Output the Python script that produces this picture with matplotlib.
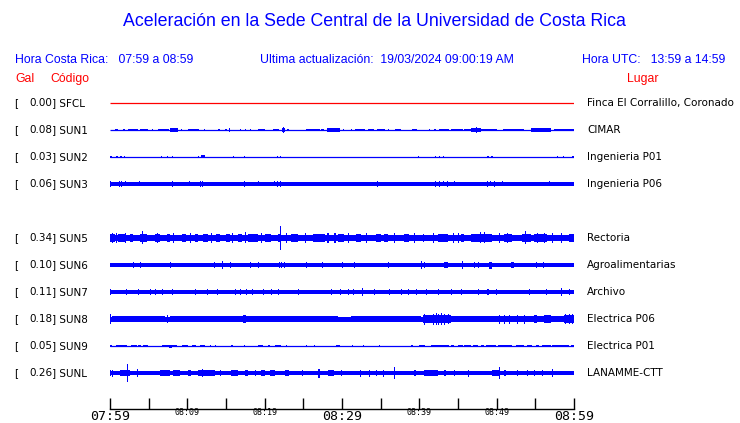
import matplotlib
matplotlib.use('Agg')
import matplotlib.pyplot as plt

# ---- data ----
codes = ['SFCL', 'SUN1', 'SUN2', 'SUN3', 'SUN5', 'SUN6', 'SUN7', 'SUN8', 'SUN9', 'SUNL']
gals = [0.00, 0.08, 0.03, 0.06, 0.34, 0.10, 0.11, 0.18, 0.05, 0.26]
places = ['Finca El Corralillo, Coronado', 'CIMAR', 'Ingenieria P01', 'Ingenieria P06',
          'Rectoria', 'Agroalimentarias', 'Archivo', 'Electrica P06', 'Electrica P01',
          'LANAMME-CTT']
rows = [0, 1, 2, 3, 5, 6, 7, 8, 9, 10]          # row 4 (SUN4) is empty
trace_colors = ['red'] + ['blue'] * 9

# half thickness of the quiet trace, in screen pixels
base_amp = [0.5, 0.5, 0.5, 2.0, 3.2, 2.0, 2.0, 2.5, 0.5, 2.3]

# bursts: (start minute, end minute, half amplitude in pixels), minutes after 07:59
ev_sfcl = []
ev_sun1 = [(0.65, 1.08, 1.4), (1.72, 1.94, 1.4), (2.28, 3.66, 1.4), (3.87, 4.95, 1.4), (5.38, 5.59, 1.4),
           (6.24, 7.61, 1.4), (7.74, 8.73, 1.8), (9.16, 9.33, 1.4), (10.1, 11.5, 1.4), (12.2, 12.3, 1.4),
           (14.0, 14.2, 1.4), (14.9, 15.1, 1.4), (15.4, 15.5, 2.2), (16.8, 16.9, 1.4), (17.4, 17.5, 1.4),
           (18.1, 18.2, 1.4), (19.1, 20.1, 1.4), (21.1, 21.9, 1.4), (22.2, 22.6, 2.2), (22.35, 22.45, 3.2),
           (22.9, 23.1, 1.4), (25.4, 27.1, 1.4), (27.3, 27.7, 1.4), (28.1, 29.7, 1.8), (30.1, 30.3, 1.4),
           (31.1, 31.3, 1.4), (31.7, 33.0, 1.4), (33.3, 34.1, 1.4), (34.5, 35.5, 1.4), (35.9, 36.1, 1.4),
           (36.9, 37.6, 1.4), (39.1, 39.7, 1.4), (41.3, 41.4, 1.4), (41.9, 42.1, 1.4), (42.5, 43.9, 1.4),
           (44.1, 45.6, 1.4), (45.8, 46.7, 1.4), (46.7, 48.0, 1.8), (47.3, 47.4, 3), (48.0, 50.1, 1.4),
           (50.8, 53.5, 1.4), (54.4, 57.0, 1.8), (57.4, 60.0, 1.4)]
ev_sun2 = [(0.0, 0.2, 1.2), (0.77, 0.99, 1.2), (1.29, 1.59, 1.2), (1.8, 1.9, 1.0), (6.58, 6.67, 0.9),
           (7.31, 7.53, 1.2), (7.96, 8.17, 1.0), (11.4, 11.5, 0.9), (11.74, 12.26, 1.5), (15.9, 16.0, 1.2),
           (17.3, 17.5, 1.2), (21.55, 21.63, 1.2), (21.98, 22.1, 1.2), (39.8, 39.9, 0.9),
           (42.06, 42.2, 1.2), (42.6, 42.7, 1.0), (43.1, 43.2, 1.2), (48.7, 49.0, 1.2),
           (49.3, 49.5, 1.2), (57.8, 57.9, 0.9), (58.6, 58.7, 0.9), (59.8, 60.0, 0.9)]
ev_sun3 = [(0.0, 0.0, 3), (1.16, 1.16, 3), (1.42, 1.42, 3), (1.94, 1.94, 2.5), (3.78, 3.78, 2.5),
           (8.04, 8.04, 3), (10.24, 10.24, 2.5), (11.66, 11.66, 3), (11.91, 11.91, 3), (17.29, 17.29, 3),
           (19.14, 19.14, 2.5), (21.2, 21.2, 2.5), (21.55, 21.55, 3), (22.02, 22.02, 3),
           (34.5, 34.5, 3), (42.06, 42.06, 3), (42.58, 42.58, 3), (43.0, 43.0, 2.5), (43.53, 43.53, 3),
           (44.5, 44.5, 2.5), (48.8, 48.9, 3), (49.2, 49.2, 2.5), (49.7, 49.7, 3), (50.75, 50.75, 2.5),
           (56.8, 56.8, 2.5)]
ev_sun5 = [(0.0, 0.65, 3.6), (1.08, 1.94, 3.6), (2.58, 3.01, 4.0), (3.87, 4.73, 4.0), (4.2, 4.3, 6.5),
           (5.81, 6.45, 3.6), (7.31, 7.74, 3.6), (9.25, 9.89, 4.0), (10.97, 11.4, 3.6), (12.04, 12.69, 3.6),
           (13.76, 14.19, 3.6), (15.05, 15.48, 3.6), (16.56, 17.08, 4.0), (17.85, 19.14, 3.6), (20.0, 20.86, 3.6),
           (21.72, 22.15, 4.0), (21.95, 22.0, 12), (23.44, 24.3, 3.6), (26.24, 27.74, 4.0), (28.09, 28.26, 5),
           (29.46, 30.32, 3.6), (31.83, 32.47, 3.6), (34.41, 35.05, 4.0), (35.48, 35.91, 3.6), (38.06, 38.71, 3.6),
           (40.43, 40.65, 3.6), (42.37, 43.66, 3.6), (45.38, 45.81, 3.6), (46.67, 49.46, 4.0), (47.8, 48.0, 5.5),
           (50.97, 52.04, 3.6), (53.33, 54.41, 4.0), (53.6, 53.8, 6.5), (54.84, 56.56, 3.6), (59.35, 60.0, 3.6),
           (0.3, 0.3, 4.8), (0.77, 0.77, 4.8), (1.94, 1.94, 4.8), (6.02, 6.02, 4.8), (8.17, 8.17, 4.8),
           (10.32, 10.32, 4.8), (13.12, 13.12, 4.8), (15.78, 15.78, 4.8), (17.42, 17.42, 5.5),
           (19.57, 19.57, 4.8), (22.8, 22.8, 4.8), (25.16, 25.16, 4.8), (29.03, 29.03, 4.8),
           (30.75, 30.75, 4.8), (33.11, 33.11, 4.8), (36.77, 36.77, 4.8), (39.35, 39.35, 4.8),
           (41.72, 41.72, 4.8), (44.3, 44.3, 4.8), (44.94, 44.94, 4.8), (48.38, 48.38, 5.5),
           (50.32, 50.32, 4.8), (51.4, 51.4, 4.8), (55.27, 55.27, 4.8), (56.13, 56.13, 4.8),
           (57.2, 57.2, 4.8), (58.28, 58.28, 4.8)]
ev_sun6 = [(3.01, 3.01, 2.8), (3.87, 3.87, 2.8), (7.74, 7.74, 2.8), (13.46, 13.46, 3), (14.49, 14.49, 4),
           (15.48, 15.48, 2.8), (18.15, 18.15, 2.8), (19.14, 19.14, 2.8), (21.81, 21.81, 3),
           (22.15, 22.15, 3), (22.49, 22.49, 3), (25.29, 25.29, 2.8), (27.4, 27.4, 2.8), (30.02, 30.02, 2.8),
           (31.61, 31.61, 2.8), (35.91, 35.91, 2.8), (40.22, 40.22, 4), (40.65, 40.65, 3),
           (43.23, 43.66, 3), (45.46, 45.46, 4), (47.01, 47.01, 3), (47.53, 47.53, 3), (49.03, 49.46, 3.5),
           (51.83, 52.26, 3), (55.05, 55.05, 2.8), (56.04, 56.04, 2.8)]
ev_sun7 = [(0.0, 0.0, 2.8), (2.02, 2.02, 3.2), (3.66, 3.66, 2.8), (5.16, 5.16, 2.8), (5.81, 5.81, 2.8),
           (6.67, 6.67, 2.8), (7.96, 7.96, 3.2), (10.97, 10.97, 2.8), (12.6, 12.6, 3.2), (13.89, 13.89, 2.8),
           (16.13, 16.13, 2.8), (16.77, 16.77, 2.8), (17.63, 17.63, 2.8), (18.41, 18.41, 3.2),
           (19.78, 19.78, 2.8), (20.86, 20.86, 2.8), (21.72, 21.72, 2.8), (24.3, 24.3, 2.8),
           (28.6, 28.6, 2.8), (29.68, 29.68, 2.8), (30.75, 30.75, 2.8), (31.4, 31.4, 2.8),
           (32.56, 32.56, 4), (34.19, 34.19, 2.8), (36.13, 36.13, 2.8), (37.63, 37.63, 2.8),
           (38.49, 38.49, 2.8), (39.57, 39.57, 2.8), (40.86, 40.86, 2.8), (42.37, 42.37, 2.8),
           (44.09, 44.09, 2.8), (45.38, 45.38, 3.2), (47.53, 47.53, 2.8), (48.7, 49.0, 3.2), (49.89, 49.89, 2.8),
           (54.19, 54.19, 3.2), (56.34, 56.34, 2.8), (58.28, 58.28, 4), (59.35, 59.35, 2.8)]
ev_sun8 = [(0.0, 0.0, 5), (0.22, 7.1, 3.0), (7.31, 7.53, 4), (7.74, 17.42, 3.0), (17.2, 17.63, 4),
           (17.63, 29.46, 3.0), (31.18, 40.22, 3.0), (40.43, 44.09, 3.8),
           (40.65, 40.65, 5.5), (41.72, 41.72, 5.5), (42.15, 42.15, 6), (42.37, 42.37, 5.5),
           (42.8, 42.8, 6), (43.23, 43.23, 5.5), (43.66, 43.66, 5),
           (44.09, 49.25, 3.2), (49.25, 53.98, 3.4), (50.32, 50.32, 4.5), (50.97, 50.97, 4.5),
           (51.61, 51.61, 4.5), (52.69, 52.69, 4.5), (53.55, 53.55, 4.5),
           (53.98, 58.71, 3.2), (54.84, 55.27, 4), (56.13, 56.99, 4), (58.71, 60.0, 3.6),
           (58.9, 58.9, 5), (59.35, 59.35, 5), (59.78, 59.78, 5)]
ev_sun9 = [(0.0, 0.22, 1.0), (0.77, 2.15, 1.0), (2.71, 3.44, 1.0), (3.66, 4.0, 1.0), (4.3, 4.86, 1.0),
           (6.75, 8.6, 1.0), (7.6, 8.0, 1.5), (9.33, 10.1, 1.0), (10.62, 11.18, 1.0), (11.61, 12.34, 1.0),
           (12.9, 13.03, 1.0), (13.55, 13.76, 1.0), (15.7, 15.91, 1.0), (17.33, 17.5, 1.0),
           (19.14, 19.78, 1.0), (20.43, 20.65, 1.0), (21.38, 22.15, 1.0), (22.8, 22.92, 1.0),
           (25.38, 25.5, 1.0), (26.37, 26.54, 1.0), (29.25, 29.68, 1.0), (31.27, 31.4, 1.0),
           (32.69, 32.82, 1.0), (34.84, 34.97, 1.0), (38.92, 39.14, 1.0), (40.0, 40.73, 1.0),
           (41.5, 43.87, 1.0), (44.09, 44.52, 1.0), (44.95, 45.59, 1.0), (45.81, 46.67, 1.0),
           (46.88, 47.53, 1.0), (47.96, 48.39, 1.0), (48.6, 49.89, 1.0), (50.11, 52.04, 1.0),
           (52.47, 53.55, 1.0), (53.98, 54.62, 1.0), (55.05, 55.48, 1.0), (55.91, 56.99, 1.0),
           (57.2, 59.35, 1.0), (59.57, 60.0, 1.0)]
ev_sunl = [(0.0, 0.0, 3), (0.3, 0.3, 3.5), (1.29, 2.58, 3.0), (2.2, 2.24, 9), (3.53, 3.53, 4),
           (6.45, 7.74, 3.0), (8.17, 9.03, 2.8), (10.11, 10.45, 3.2),
           (11.4, 13.55, 2.8), (11.91, 11.91, 4), (14.19, 14.19, 2.8), (15.61, 16.56, 3.0), (17.42, 17.85, 2.8),
           (18.71, 18.92, 3.2), (19.57, 20.0, 2.8), (20.73, 21.29, 3.2), (22.58, 23.1, 2.8), (24.86, 24.86, 3),
           (26.88, 27.18, 4.5), (28.17, 29.03, 2.8), (29.89, 29.89, 3), (32.34, 32.34, 3.5),
           (33.55, 33.55, 3.5), (34.41, 34.41, 3), (35.27, 35.27, 3.5), (36.77, 36.77, 6),
           (39.27, 39.57, 3), (40.65, 42.37, 3.0), (43.23, 43.44, 3), (44.52, 44.52, 3), (46.24, 46.45, 3.5),
           (49.46, 50.32, 3.2), (50.24, 50.28, 6), (50.97, 51.18, 3),
           (52.69, 52.69, 3), (53.98, 53.98, 3), (54.84, 54.84, 3), (55.91, 55.91, 3), (57.2, 57.2, 4)]
events = [ev_sfcl, ev_sun1, ev_sun2, ev_sun3, ev_sun5, ev_sun6, ev_sun7, ev_sun8, ev_sun9, ev_sunl]

tick_minutes = list(range(0, 61, 5))
tick_labels = ['07:59', '', '08:09', '', '08:19', '', '08:29', '', '08:39', '', '08:49', '', '08:59']
big_labels = ['07:59', '08:29', '08:59']

W, H = 740, 423
ROW_PX = 27.0
BLUE = '#0000ff'
RED = '#ff0000'

fig = plt.figure(figsize=(W / 100, H / 100), dpi=100)

def fx(px):
    return px / W

def fy(py):
    return 1 - py / H

# traces axes: rows 0..10, bottom spine is the time axis
y_top, y_bot = -0.5, (409 - 103) / ROW_PX
ax = fig.add_axes([fx(110), fy(409), fx(574) - fx(110), fy(103 + y_top * ROW_PX) - fy(409)])
ax.set_xlim(0, 60)
ax.set_ylim(y_bot, y_top)
for s in ['top', 'left', 'right']:
    ax.spines[s].set_visible(False)
ax.spines['bottom'].set_linewidth(1)
ax.set_yticks([])

for r, b, ev, c in zip(rows, base_amp, events, trace_colors):
    if b <= 0.6:
        ax.hlines(r, 0, 60, color=c, lw=0.9)
    else:
        ax.bar(0, 2 * b / ROW_PX, bottom=r - b / ROW_PX, width=60, align='edge',
               color=c, linewidth=0)
    for t0, t1, a in ev:
        w = max(t1 - t0, 0.13)
        ax.bar(t0, 2 * a / ROW_PX, bottom=r - a / ROW_PX, width=w, align='edge',
               color=c, linewidth=0)

ax.set_xticks(tick_minutes)
ax.set_xticklabels(tick_labels)
ax.tick_params(axis='x', direction='in', length=8, width=1, pad=1)
for lab in ax.get_xticklabels():
    lab.set_family('DejaVu Sans Mono')
    if lab.get_text() in big_labels:
        lab.set_fontsize(9.5)
    else:
        lab.set_fontsize(6)
        lab.set_y(0.006)

# header texts
hdr = dict(family='Liberation Sans', color=BLUE)
fig.text(fx(374), fy(22), 'Aceleración en la Sede Central de la Universidad de Costa Rica',
         ha='center', va='center', fontsize=12.8, **hdr)
fig.text(fx(15), fy(60), 'Hora Costa Rica:   07:59 a 08:59', ha='left', va='center',
         fontsize=8.8, **hdr)
fig.text(fx(260), fy(60), 'Ultima actualización:  19/03/2024 09:00:19 AM', ha='left',
         va='center', fontsize=8.8, **hdr)
fig.text(fx(725), fy(60), 'Hora UTC:   13:59 a 14:59', ha='right', va='center',
         fontsize=8.8, **hdr)
red = dict(family='Liberation Sans', color=RED, fontsize=8.8, va='center')
fig.text(fx(15), fy(79), 'Gal', ha='left', **red)
fig.text(fx(50), fy(79), 'Código', ha='left', **red)
fig.text(fx(627), fy(79), 'Lugar', ha='left', **red)

# row labels
for r, g, code, place in zip(rows, gals, codes, places):
    py = 103 + r * ROW_PX
    fig.text(fx(14), fy(py), '[', ha='left', va='center', fontsize=7.5, color='black')
    fig.text(fx(52.5), fy(py), f'{g:.2f}', ha='right', va='center', fontsize=7.5, color='black')
    fig.text(fx(52.5), fy(py), '] ' + code, ha='left', va='center', fontsize=7.5, color='black')
    fig.text(fx(587), fy(py), place, ha='left', va='center', fontsize=7.5, color='black')

fig.savefig('out.png', dpi=100)
